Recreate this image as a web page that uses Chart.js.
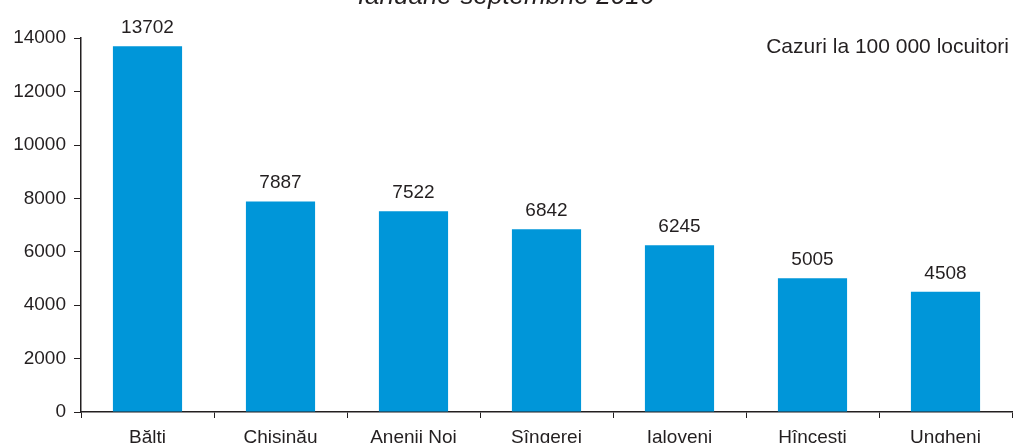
<!DOCTYPE html>
<html>
<head>
<meta charset="utf-8">
<script src="https://cdn.jsdelivr.net/npm/chart.js@4"></script>
<style>
  html, body { margin: 0; padding: 0; background: #fff; overflow: hidden; }
  #wrap { position: absolute; left: 0; top: -30px; width: 1014px; height: 480px; }
</style>
</head>
<body>
<div id="wrap"><canvas id="myGraph"></canvas></div>
<script>
/* DATOS DEL GRAFICO */
const titlu = "Ianuarie-septembrie 2016";
const unitate = "Cazuri la 100 000 locuitori";
const raioane = ["Bălti", "Chisinău", "Anenii Noi", "Sîngerei", "Ialoveni", "Hîncesti", "Ungheni"];
const cazuri = [13702, 7887, 7522, 6842, 6245, 5005, 4508];
const yMin = 0;
const yMax = 14000;
const yStep = 2000;

const textColor = "#231f20";
const barColor = "#0096d9";
const fontFam = "'Liberation Sans', Arial, sans-serif";

/* PLUGIN PARA ETIQUETAS DE VALOR Y UNIDAD */
const valueLabels = {
  id: "valueLabels",
  afterDatasetsDraw(chart) {
    const ctx = chart.ctx;
    const meta = chart.getDatasetMeta(0);
    ctx.save();
    ctx.font = "19px " + fontFam;
    ctx.fillStyle = textColor;
    ctx.textAlign = "center";
    ctx.textBaseline = "alphabetic";
    meta.data.forEach((bar, i) => {
      ctx.fillText(String(cazuri[i]), bar.x, bar.y - 13);
    });
    ctx.font = "21px " + fontFam;
    ctx.textAlign = "right";
    ctx.fillText(unitate, chart.chartArea.right - 3, 83);
    ctx.restore();
  }
};

const config = {
  type: "bar",
  data: {
    labels: raioane,
    datasets: [
      {
        data: cazuri,
        backgroundColor: barColor,
        borderWidth: 0,
        barPercentage: 0.52,
        categoryPercentage: 1
      }
    ]
  },
  options: {
    responsive: true,
    maintainAspectRatio: false,
    animation: false,
    layout: { padding: { left: 0, right: 2, top: 0, bottom: 0 } },
    plugins: {
      legend: { display: false },
      tooltip: { enabled: false },
      title: {
        display: true,
        text: titlu,
        color: textColor,
        font: { family: fontFam, size: 26, style: "italic", weight: "normal" },
        padding: { top: 11, bottom: 26 }
      }
    },
    scales: {
      x: {
        grid: {
          display: true,
          drawOnChartArea: false,
          drawTicks: true,
          tickLength: 6,
          color: textColor,
          offset: true
        },
        border: { display: true, color: textColor, width: 1.5 },
        ticks: {
          color: textColor,
          font: { family: fontFam, size: 19 },
          padding: 8,
          maxRotation: 0,
          autoSkip: false
        },
        afterFit: (s) => { s.height = 38; }
      },
      y: {
        min: yMin,
        max: yMax,
        grid: {
          display: true,
          drawOnChartArea: false,
          drawTicks: true,
          tickLength: 7,
          color: textColor
        },
        border: { display: true, color: textColor, width: 1.5 },
        ticks: {
          stepSize: yStep,
          color: textColor,
          font: { family: fontFam, size: 19 },
          padding: 8,
          callback: (v) => String(v)
        },
        afterFit: (s) => { s.width = 81; }
      }
    }
  },
  plugins: [valueLabels]
};

const chart = new Chart(document.getElementById("myGraph"), config);
</script>
</body>
</html>
